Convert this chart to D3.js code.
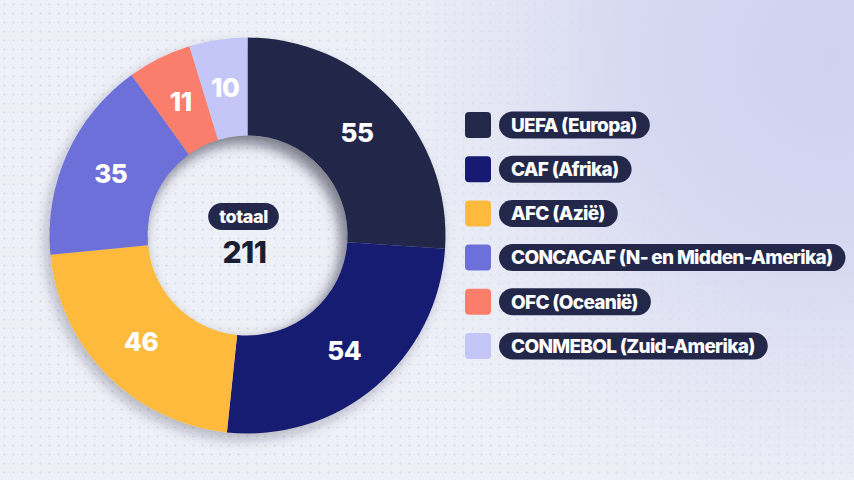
<!DOCTYPE html>
<html><head><meta charset="utf-8">
<script src="https://cdn.jsdelivr.net/npm/d3@7"></script>
<style>
html,body{margin:0;padding:0;background:#eef0f7;overflow:hidden}
svg{display:block}
text{font-family:Inter,Lato,"Open Sans",sans-serif}
</style></head>
<body>
<svg id="c" width="854" height="480"></svg>
<script>
const categories = ["UEFA (Europa)","CAF (Afrika)","AFC (Azië)","CONCACAF (N- en Midden-Amerika)","OFC (Oceanië)","CONMEBOL (Zuid-Amerika)"];
const values = [55,54,46,35,11,10];
const colors = ["#23284a","#161a72","#fdba3c","#6d70d8","#fb7d6c","#c4c6f8"];
const totalLabel = "totaal";

const W=854,H=480;
const svg=d3.select("#c");
const defs=svg.append("defs");

const pat=defs.append("pattern").attr("id","dots").attr("width",9).attr("height",9).attr("patternUnits","userSpaceOnUse");
pat.append("circle").attr("cx",4.5).attr("cy",4.5).attr("r",1.1).attr("fill","#d5d8e7");

const rg=defs.append("radialGradient").attr("id","glow").attr("gradientUnits","userSpaceOnUse")
  .attr("cx",830).attr("cy",60).attr("r",520);
rg.append("stop").attr("offset","0").attr("stop-color","#cfd2ee").attr("stop-opacity",1);
rg.append("stop").attr("offset","0.4").attr("stop-color","#d4d7f0").attr("stop-opacity",0.92);
rg.append("stop").attr("offset","0.75").attr("stop-color","#e2e4f4").attr("stop-opacity",0.5);
rg.append("stop").attr("offset","1").attr("stop-color","#eef0f7").attr("stop-opacity",0);

const f=defs.append("filter").attr("id","ds").attr("x","-20%").attr("y","-20%").attr("width","140%").attr("height","140%");
f.append("feDropShadow").attr("dx",-4).attr("dy",6).attr("stdDeviation",6).attr("flood-color","#1a1d3a").attr("flood-opacity",0.28);
const bl=defs.append("filter").attr("id","blur").attr("x","-30%").attr("y","-30%").attr("width","160%").attr("height","160%");
bl.append("feGaussianBlur").attr("stdDeviation",7);

svg.append("rect").attr("width",W).attr("height",H).attr("fill","#eef0f7");
svg.append("rect").attr("width",W).attr("height",H).attr("fill","url(#dots)");
svg.append("rect").attr("width",W).attr("height",H).attr("fill","url(#glow)");

const cx=247.5, cy=235.5, R=198, r0=100;
const g=svg.append("g").attr("transform",`translate(${cx},${cy})`);

const pie=d3.pie().sort(null).value(d=>d.v);
const data=categories.map((c,i)=>({c,v:values[i],col:colors[i]}));
const arcs=pie(data);
const arc=d3.arc().innerRadius(r0).outerRadius(R);
const labelArc=d3.arc().innerRadius(150).outerRadius(150);

const ring=g.append("g").attr("filter","url(#ds)");
ring.selectAll("path").data(arcs).join("path").attr("d",arc).attr("fill",d=>d.data.col);

defs.append("clipPath").attr("id","hole").append("circle").attr("cx",0).attr("cy",0).attr("r",r0);
g.append("g").attr("clip-path","url(#hole)")
  .append("circle").attr("cx",-6).attr("cy",7).attr("r",r0+16).attr("fill","none")
  .attr("stroke","#60626f").attr("stroke-opacity",0.7).attr("stroke-width",32).attr("filter","url(#blur)");

g.selectAll("text.v").data(arcs).join("text").attr("class","v")
  .attr("transform",d=>`translate(${labelArc.centroid(d)})`)
  .attr("text-anchor","middle").attr("dy","0.36em")
  .attr("fill","#fff").attr("font-size",26).attr("font-weight",800)
  .attr("letter-spacing",-0.5)
  .text(d=>d.data.v);

const total=d3.sum(values);
const tg=g.append("g");
const tt=tg.append("text").attr("x",-4).attr("y",-19).attr("text-anchor","middle").attr("dy","0.36em")
  .attr("fill","#fff").attr("font-size",18).attr("font-weight",800).attr("letter-spacing",-0.4).text(totalLabel);
const tw=tt.node().getComputedTextLength();
tg.insert("rect","text").attr("x",-4-tw/2-11).attr("y",-19-13.5).attr("width",tw+22).attr("height",27).attr("rx",13.5).attr("fill","#23284a");
g.append("text").attr("x",-3).attr("y",17).attr("text-anchor","middle").attr("dy","0.36em")
  .attr("fill","#1b1e33").attr("font-size",30).attr("font-weight",800).attr("letter-spacing",-0.5).text(total);

// legend
const y=d3.scalePoint().domain(categories).range([125,346]);
const lg=svg.append("g");
const FS=19;
// fit the longest label to the pill width seen in the reference via letter-spacing
const probe=lg.append("text").attr("font-size",FS).attr("font-weight",800).text(categories[3]);
const w0=probe.node().getComputedTextLength();
const ls=(321-w0)/(categories[3].length);
probe.remove();
categories.forEach((c,i)=>{
  const yy=y(c);
  lg.append("rect").attr("x",465).attr("y",yy-13).attr("width",26).attr("height",26).attr("rx",4).attr("fill",colors[i]);
  const t=lg.append("text").attr("x",511).attr("y",yy).attr("dy","0.36em").attr("fill","#fff")
    .attr("font-size",FS).attr("font-weight",800).attr("letter-spacing",ls).text(c);
  const w=t.node().getComputedTextLength();
  lg.insert("rect","text").attr("x",499).attr("y",yy-13.5).attr("width",w+25).attr("height",27).attr("rx",13.5).attr("fill","#23284a");
});
</script>
</body></html>
